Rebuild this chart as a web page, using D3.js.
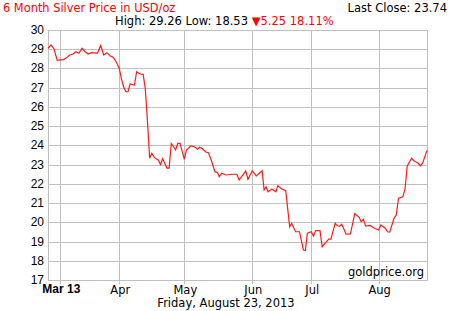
<!DOCTYPE html>
<head>
    <meta charset="utf-8">
    <title>Silver</title>
    <style>
        body { margin: 0; background: #fff; }
        text { font-family: "DejaVu Sans", Verdana, sans-serif; }
    </style>
</head>
<body>
<script src="https://d3js.org/d3.v7.min.js"></script>
<script>
    // prices
    var dates = ["2013-03-09","2013-03-10","2013-03-11","2013-03-12","2013-03-13","2013-03-14","2013-03-15","2013-03-16",
        "2013-03-17","2013-03-18","2013-03-19","2013-03-20","2013-03-21","2013-03-22","2013-03-23","2013-03-25","2013-03-26",
        "2013-03-27","2013-03-28","2013-03-29","2013-03-30","2013-03-31","2013-04-01",
        "2013-04-02","2013-04-03","2013-04-04","2013-04-05","2013-04-06","2013-04-08","2013-04-09","2013-04-10","2013-04-11",
        "2013-04-12","2013-04-13","2013-04-14","2013-04-15","2013-04-16","2013-04-17","2013-04-18","2013-04-19","2013-04-20",
        "2013-04-21","2013-04-23","2013-04-24","2013-04-25","2013-04-27","2013-04-28","2013-04-29","2013-04-30","2013-05-01",
        "2013-05-02","2013-05-04","2013-05-06","2013-05-07","2013-05-08","2013-05-09","2013-05-11","2013-05-12","2013-05-13",
        "2013-05-15","2013-05-16","2013-05-17","2013-05-18","2013-05-20","2013-05-23","2013-05-25","2013-05-26","2013-05-28",
        "2013-05-29","2013-05-30","2013-06-01",
        "2013-06-03","2013-06-04","2013-06-06","2013-06-07","2013-06-08","2013-06-09","2013-06-11","2013-06-13","2013-06-14",
        "2013-06-16","2013-06-18","2013-06-20","2013-06-21","2013-06-23","2013-06-25","2013-06-27","2013-06-28","2013-06-29",
        "2013-07-01","2013-07-02","2013-07-03","2013-07-05","2013-07-06","2013-07-08","2013-07-09","2013-07-10","2013-07-12",
        "2013-07-13","2013-07-14","2013-07-15","2013-07-17","2013-07-19","2013-07-21","2013-07-23","2013-07-24","2013-07-25",
        "2013-07-26","2013-07-28","2013-07-30","2013-08-01",
        "2013-08-02","2013-08-04","2013-08-05","2013-08-06","2013-08-08","2013-08-09","2013-08-10","2013-08-12","2013-08-13",
        "2013-08-14","2013-08-16","2013-08-17","2013-08-19","2013-08-20","2013-08-21","2013-08-23"];
    var prices = [29.05,29.22,29.0,28.42,28.45,28.46,28.55,28.7,
        28.74,28.87,28.79,29.05,28.87,28.75,28.82,28.8,29.19,
        28.7,28.82,28.66,28.58,28.35,28.0,
        27.45,27.05,26.79,26.79,27.19,27.14,27.83,27.75,27.7,
        27.7,26.95,25.25,23.33,23.59,23.4,23.3,23.24,23.0,
        23.31,22.82,22.82,24.1,23.76,24.1,24.1,23.7,23.28,
        23.76,23.98,23.9,23.8,23.9,23.85,23.64,23.62,23.33,
        22.62,22.6,22.37,22.55,22.46,22.5,22.5,22.2,22.51,
        22.67,22.24,22.68,
        22.41,22.5,22.68,21.68,21.85,21.59,21.73,21.59,21.9,
        21.73,21.64,19.77,19.95,19.51,19.51,18.56,18.53,19.43,
        19.51,19.29,19.57,19.57,18.73,18.99,19.13,19.13,19.95,
        19.82,19.8,19.9,19.39,19.4,20.45,20.26,20.03,20.15,
        19.8,19.84,19.69,19.6,
        19.86,19.69,19.51,19.49,20.21,20.38,21.25,21.33,21.72,
        22.93,23.33,23.2,23.07,22.94,23.07,23.74];

    var tickDates = ["2013-03-13","2013-04-01","2013-05-01","2013-06-01","2013-07-01","2013-08-01"];
    var tickLabels = ["Mar 13","Apr","May","Jun","Jul","Aug"];
    var yTicks = [17,18,19,20,21,22,23,24,25,26,27,28,29,30];

    var parseDate = d3.timeParse("%Y-%m-%d");
    var data = dates.map(function (d, i) {
        return { date: parseDate(d), price: prices[i] };
    });

    var width = 450, height = 311;
    var plotLeft = 48, plotRight = 427, plotTop = 30, plotBottom = 280;

    // the axis is not uniform in time, so map it piece by piece
    var x = d3.scaleTime()
        .domain([parseDate("2013-03-09")].concat(tickDates.map(parseDate)).concat([parseDate("2013-08-23")]))
        .range([plotLeft, 60.3, 119.3, 184.3, 252.3, 311.3, 378.7, plotRight]);
    var y = d3.scaleLinear().domain([17, 30]).range([plotBottom, plotTop]);

    var svg = d3.select("body").append("svg")
        .attr("width", width)
        .attr("height", height);

    var grid = "#c0c0c0";

    // horizontal grid
    svg.append("g").selectAll("line")
        .data(yTicks)
        .enter().append("line")
        .attr("x1", plotLeft).attr("x2", plotRight)
        .attr("y1", function (d) { return Math.round(y(d)) + 0.5; })
        .attr("y2", function (d) { return Math.round(y(d)) + 0.5; })
        .attr("stroke", grid);

    // vertical grid, running a bit past the bottom as ticks
    svg.append("g").selectAll("line")
        .data(tickDates)
        .enter().append("line")
        .attr("x1", function (d) { return Math.round(x(parseDate(d))) + 0.5; })
        .attr("x2", function (d) { return Math.round(x(parseDate(d))) + 0.5; })
        .attr("y1", plotTop).attr("y2", plotBottom + 4)
        .attr("stroke", grid);

    // frame
    svg.append("rect")
        .attr("x", plotLeft + 0.5).attr("y", plotTop + 0.5)
        .attr("width", plotRight - plotLeft).attr("height", plotBottom - plotTop)
        .attr("fill", "none")
        .attr("stroke", grid);

    // y labels
    svg.append("g").selectAll("text")
        .data(yTicks)
        .enter().append("text")
        .attr("x", plotLeft - 4)
        .attr("y", function (d) { return y(d) + 4; })
        .attr("text-anchor", "end")
        .style("font-family", "'Liberation Sans', Arial, sans-serif")
        .style("font-size", "12px")
        .text(function (d) { return d; });

    // x labels
    svg.append("g").selectAll("text")
        .data(tickDates)
        .enter().append("text")
        .attr("x", function (d) { return x(parseDate(d)) + 1; })
        .attr("y", function (d, i) { return i === 0 ? 293 : 294; })
        .attr("text-anchor", "middle")
        .style("font-size", function (d, i) { return i === 0 ? "12px" : "11.5px"; })
        .style("font-weight", function (d, i) { return i === 0 ? "bold" : "normal"; })
        .style("font-family", function (d, i) { return i === 0 ? "'Liberation Sans', Arial, sans-serif" : null; })
        .text(function (d, i) { return tickLabels[i]; });

    var line = d3.line()
        .x(function (d) { return x(d.date); })
        .y(function (d) { return y(d.price); });

    svg.append("path")
        .datum(data)
        .attr("fill", "none")
        .attr("stroke", "#ff1a1a")
        .attr("stroke-width", 1.2)
        .attr("d", line);

    // header texts
    svg.append("text")
        .attr("x", 3).attr("y", 12)
        .attr("fill", "#ff0000")
        .style("font-size", "11.4px")
        .text("6 Month Silver Price in USD/oz");

    svg.append("text")
        .attr("x", 447).attr("y", 12)
        .attr("text-anchor", "end")
        .style("font-size", "11.5px")
        .text("Last Close: 23.74");

    var info = svg.append("text")
        .attr("x", 115).attr("y", 25)
        .style("font-size", "11.5px");
    info.append("tspan").text("High: 29.26 Low: 18.53 ");
    info.append("tspan").attr("fill", "#ff0000").text("\u25BC5.25 18.11%");

    svg.append("text")
        .attr("x", 424).attr("y", 276)
        .attr("text-anchor", "end")
        .style("font-size", "11.5px")
        .text("goldprice.org");

    svg.append("text")
        .attr("x", 226).attr("y", 307)
        .attr("text-anchor", "middle")
        .style("font-size", "11.5px")
        .text("Friday, August 23, 2013");
</script>
</body>
